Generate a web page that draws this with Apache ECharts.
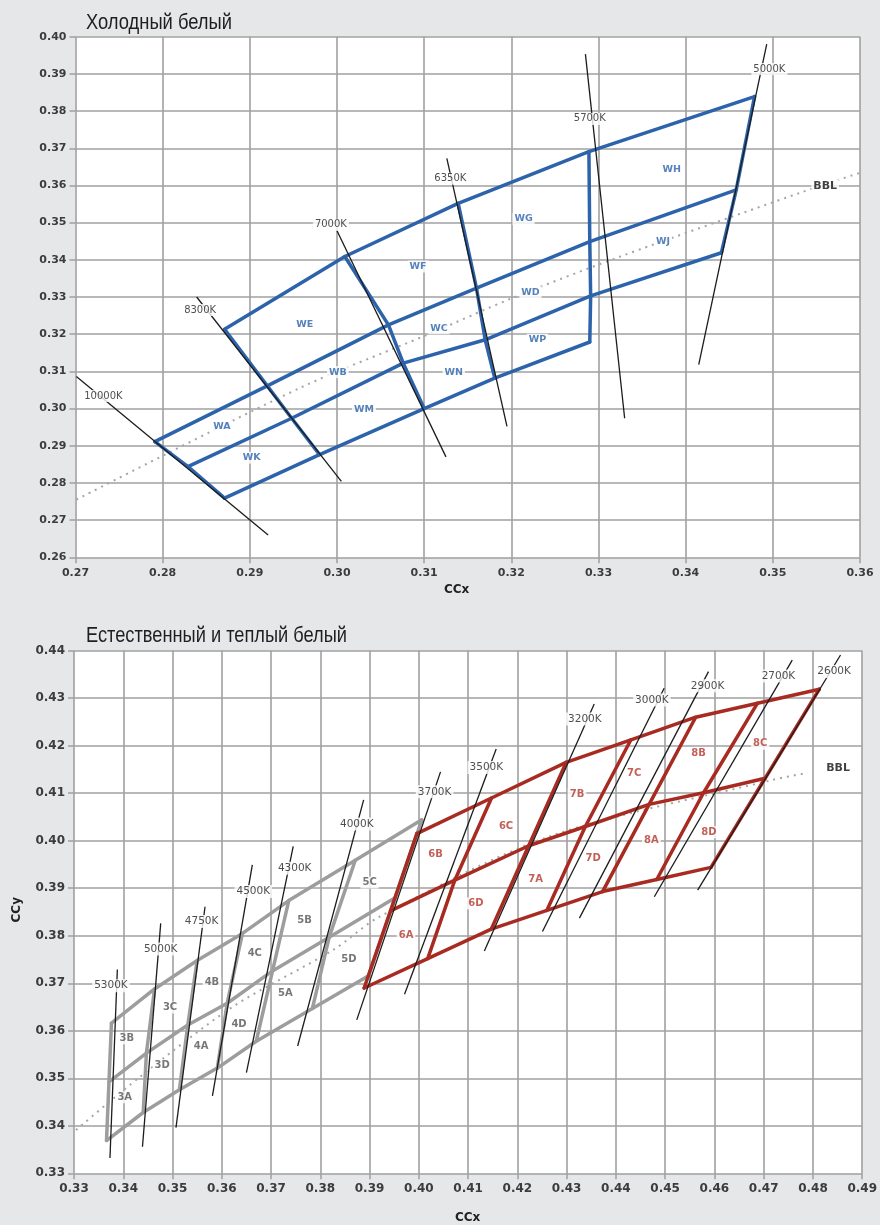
<!DOCTYPE html>
<html>
<head>
<meta charset="utf-8">
<script src="https://cdn.jsdelivr.net/npm/echarts@6/dist/echarts.min.js"></script>
<style>
  html, body { margin: 0; padding: 0; background: #e5e7e9; }
  #chart { width: 880px; height: 1225px; }
</style>
</head>
<body>
<div id="chart"></div>
<script>
// ---------- axis ticks ----------
const coolXTicks = [0.27, 0.28, 0.29, 0.30, 0.31, 0.32, 0.33, 0.34, 0.35, 0.36];
const coolYTicks = [0.26, 0.27, 0.28, 0.29, 0.30, 0.31, 0.32, 0.33, 0.34, 0.35, 0.36, 0.37, 0.38, 0.39, 0.40];
const warmXTicks = [0.33, 0.34, 0.35, 0.36, 0.37, 0.38, 0.39, 0.40, 0.41, 0.42, 0.43, 0.44, 0.45, 0.46, 0.47, 0.48, 0.49];
const warmYTicks = [0.33, 0.34, 0.35, 0.36, 0.37, 0.38, 0.39, 0.40, 0.41, 0.42, 0.43, 0.44];

// ---------- cool white bins ----------
// Bin edges along isotherms; each lists its crossing with rows 1..4 (top to bottom), null where a row does not reach.
const coolEdgeNames = ['10000K', '8300K', '7000K', '6350K', '5700K', '5000K'];
const coolEdgePoints = [
  [null, [0.2791, 0.2911], [0.2829, 0.2844], [0.2871, 0.2759]],
  [[0.2871, 0.3213], [0.2920, 0.3061], [0.2948, 0.2974], [0.2980, 0.2876]],
  [[0.3009, 0.3409], [0.3059, 0.3225], [0.3076, 0.3122], [0.3100, 0.3000]],
  [[0.3139, 0.3552], [0.3160, 0.3324], [0.3170, 0.3185], [0.3181, 0.3082]],
  [[0.3289, 0.3691], [0.3290, 0.3449], [0.3291, 0.3303], [0.3290, 0.3179]],
  [[0.3479, 0.3839], [0.3458, 0.3588], [0.3441, 0.3419], null]
];
const coolBinNames = ['WA', 'WK', 'WE', 'WB', 'WM', 'WF', 'WC', 'WN', 'WG', 'WD', 'WP', 'WH', 'WJ'];
const coolBinPos = [
  [0.2868, 0.2952], [0.2902, 0.2868], [0.2963, 0.3227], [0.3001, 0.3098], [0.3031, 0.2998],
  [0.3093, 0.3382], [0.3117, 0.3216], [0.3134, 0.3097], [0.3214, 0.3510], [0.3222, 0.3313],
  [0.3230, 0.3185], [0.3384, 0.3644], [0.3374, 0.3449]
];
// Isotherm lines [x1, y1, x2, y2] and their label anchors
const coolIsotherms = [
  [0.2701, 0.3086, 0.2921, 0.2660],
  [0.2839, 0.3300, 0.3005, 0.2804],
  [0.3000, 0.3478, 0.3125, 0.2870],
  [0.3126, 0.3673, 0.3195, 0.2952],
  [0.3285, 0.3953, 0.3330, 0.2974],
  [0.3493, 0.3980, 0.3415, 0.3118]
];
const coolIsoLabelPos = [
  [0.2732, 0.3034], [0.2843, 0.3265], [0.2993, 0.3494], [0.3130, 0.3618], [0.3290, 0.3779], [0.3496, 0.3913]
];
const coolBBL = [
  [0.2701, 0.2755], [0.2958, 0.3056], [0.3103, 0.3198], [0.3202, 0.3298],
  [0.3324, 0.3408], [0.3531, 0.3580], [0.3600, 0.3634]
];
const coolBBLLabel = [0.3560, 0.3599];

// ---------- neutral & warm white bins ----------
// Edges listed top, middle, bottom row.
const neutralEdgePoints = [
  [[0.3376, 0.3616], [0.3371, 0.34925], [0.3366, 0.3369]],
  [[0.34635, 0.3688], [0.3447, 0.3553], [0.34405, 0.3428]],
  [[0.3550, 0.3748], [0.3531, 0.3612], [0.3514, 0.3476]],
  [[0.3642, 0.3805], [0.3611, 0.3658], [0.3591, 0.35215]],
  [[0.3736, 0.3874], [0.3703, 0.3726], [0.3670, 0.3578]],
  [[0.3871, 0.3959], [0.3818, 0.3797], [0.3784, 0.3647]],
  [[0.4006, 0.4044], [0.3952, 0.3880], [0.3898, 0.3716]]
];
const warmEdgePoints = [
  [[0.3996, 0.4015], [0.39425, 0.38525], [0.3889, 0.3690]],
  [[0.41475, 0.4090], [0.4073, 0.3917], [0.4018, 0.3752]],
  [[0.4299, 0.4165], [0.4223, 0.39895], [0.4147, 0.3814]],
  [[0.44305, 0.42125], [0.4338, 0.4030], [0.4260, 0.38535]],
  [[0.4562, 0.4260], [0.44675, 0.40765], [0.4373, 0.3893]],
  [[0.46875, 0.42895], [0.4578, 0.4101], [0.4483, 0.39185]],
  [[0.4813, 0.4319], [0.4703, 0.41315], [0.4593, 0.3944]]
];
const neutralBinNames = ['3B', '3C', '3A', '3D', '4B', '4C', '4A', '4D', '5B', '5C', '5A', '5D'];
const neutralBinPos = [
  [0.3407, 0.3584], [0.3495, 0.3649], [0.3403, 0.3460], [0.3479, 0.3527],
  [0.3580, 0.3701], [0.3667, 0.3763], [0.3558, 0.3567], [0.3635, 0.3614],
  [0.3768, 0.3832], [0.3900, 0.3912], [0.3729, 0.3679], [0.3858, 0.3750]
];
const warmBinNames = ['6B', '6C', '6A', '6D', '7B', '7C', '7A', '7D', '8B', '8C', '8A', '8D'];
const warmBinPos = [
  [0.4034, 0.3972], [0.4177, 0.4031], [0.3974, 0.3800], [0.4116, 0.3868],
  [0.4321, 0.4098], [0.4437, 0.4142], [0.4237, 0.3919], [0.4354, 0.3963],
  [0.4568, 0.4183], [0.4693, 0.4204], [0.4472, 0.4000], [0.4589, 0.4018]
];
const warmIsoNames = ['5300K', '5000K', '4750K', '4500K', '4300K', '4000K', '3700K', '3500K', '3200K', '3000K', '2900K', '2700K', '2600K'];
const warmIsotherms = [
  [0.3388, 0.3729, 0.3373, 0.3332],
  [0.3476, 0.3826, 0.3439, 0.3356],
  [0.3566, 0.3861, 0.3507, 0.3396],
  [0.3662, 0.3949, 0.3581, 0.3463],
  [0.3745, 0.3988, 0.3650, 0.3512],
  [0.3888, 0.4086, 0.3754, 0.3568],
  [0.4044, 0.4145, 0.3874, 0.3623],
  [0.4157, 0.4193, 0.3971, 0.3677],
  [0.4356, 0.4288, 0.4133, 0.3768],
  [0.4498, 0.4321, 0.4251, 0.3809],
  [0.4588, 0.4356, 0.4326, 0.3837],
  [0.4758, 0.4380, 0.4478, 0.3882],
  [0.4856, 0.4391, 0.4566, 0.3896]
];
const warmIsoLabelPos = [
  [0.3375, 0.3695], [0.3476, 0.3772], [0.3559, 0.3830], [0.3664, 0.3893], [0.3748, 0.3942],
  [0.3874, 0.4035], [0.4032, 0.4103], [0.4137, 0.4154], [0.4337, 0.4256], [0.4473, 0.4296],
  [0.4586, 0.4326], [0.4730, 0.4347], [0.4843, 0.4356]
];
const warmBBL = [
  [0.3304, 0.3391], [0.3434, 0.3503], [0.3623, 0.3651], [0.3826, 0.3770],
  [0.3920, 0.3840], [0.4265, 0.4009], [0.4718, 0.4128], [0.4785, 0.4142]
];
const warmBBLLabel = [0.4851, 0.4153];

// ---------- styling ----------
const BLUE = '#2c63aa';
const RED = '#a82b22';
const GREY = '#9d9d9d';
const INK = '#1c1c1c';
const GRIDLINE = '#a0a0a0';
const TICK_FONT = 'DejaVu Sans';
const TITLE_FONT = '22px "Liberation Sans", Arial, sans-serif';

function binGrid(edges, color, width, ax) {
  const out = [];
  const rows = edges[0].length;
  const mk = (pts) => ({
    type: 'line', xAxisIndex: ax, yAxisIndex: ax, data: pts,
    symbol: 'none', silent: true, animation: false, z: 2,
    lineStyle: { color: color, width: width, cap: 'round', join: 'round' }
  });
  edges.forEach(e => out.push(mk(e.filter(Boolean))));
  for (let r = 0; r < rows; r++) {
    out.push(mk(edges.map(e => e[r]).filter(Boolean)));
  }
  return out;
}

function isoLines(list, ax) {
  return list.map(s => ({
    type: 'line', xAxisIndex: ax, yAxisIndex: ax,
    data: [[s[0], s[1]], [s[2], s[3]]],
    symbol: 'none', silent: true, animation: false, z: 3,
    lineStyle: { color: INK, width: 1.3 }
  }));
}

function labels(names, pos, ax, color, size, bold, z) {
  return {
    type: 'scatter', xAxisIndex: ax, yAxisIndex: ax,
    symbolSize: 1, silent: true, animation: false, z: z,
    itemStyle: { color: 'rgba(0,0,0,0)' },
    data: names.map((n, i) => ({ name: n, value: pos[i] })),
    label: {
      show: true, position: 'inside', formatter: '{b}',
      color: color, fontSize: size, fontFamily: 'DejaVu Sans',
      fontWeight: bold ? 'bold' : 'normal',
      backgroundColor: '#ffffff', padding: [1, 2]
    }
  };
}

function bbl(pts, ax) {
  return {
    type: 'line', xAxisIndex: ax, yAxisIndex: ax, data: pts,
    symbol: 'none', silent: true, animation: false, z: 1, smooth: 0.3,
    lineStyle: { color: '#a5a5a5', width: 2, type: [2, 5] }
  };
}

function valueAxis(ticks, gridIndex, fontSize, isX) {
  return {
    type: 'value', gridIndex: gridIndex,
    min: ticks[0], max: ticks[ticks.length - 1],
    interval: Math.round((ticks[1] - ticks[0]) * 1000) / 1000,
    axisLine: { show: false },
    axisTick: { show: true, length: 6, lineStyle: { color: GRIDLINE, width: 1.5 } },
    splitLine: { show: true, showMinLine: true, showMaxLine: true, lineStyle: { color: GRIDLINE, width: 1.6 } },
    axisLabel: {
      color: '#3c3c3c', fontFamily: TICK_FONT, fontWeight: 'bold', fontSize: fontSize,
      margin: isX ? 10 : 9,
      formatter: v => v.toFixed(2)
    }
  };
}

// Narrow headline: horizontally condense the title face to the panel's headline width.
function condensed(text, targetWidth) {
  const ctx = document.createElement('canvas').getContext('2d');
  ctx.font = TITLE_FONT;
  return targetWidth / ctx.measureText(text).width;
}
const TITLE_COOL = 'Холодный белый';
const TITLE_WARM = 'Естественный и теплый белый';

const series = [].concat(
  [bbl(coolBBL, 0)],
  binGrid(coolEdgePoints, BLUE, 3.5, 0),
  isoLines(coolIsotherms, 0),
  [labels(coolBinNames, coolBinPos, 0, BLUE, 9.5, true, 5)],
  [labels(coolEdgeNames, coolIsoLabelPos, 0, '#222', 10, false, 6)],
  [labels(['BBL'], [coolBBLLabel], 0, '#111', 11, true, 6)],

  [bbl(warmBBL, 1)],
  binGrid(neutralEdgePoints, GREY, 3.5, 1),
  binGrid(warmEdgePoints, RED, 3.5, 1),
  isoLines(warmIsotherms, 1),
  [labels(neutralBinNames, neutralBinPos, 1, '#555', 10, true, 5)],
  [labels(warmBinNames, warmBinPos, 1, '#b3392d', 10, true, 5)],
  [labels(warmIsoNames, warmIsoLabelPos, 1, '#222', 10.5, false, 6)],
  [labels(['BBL'], [warmBBLLabel], 1, '#111', 11, true, 6)]
);

const chart = echarts.init(document.getElementById('chart'), null, { renderer: 'canvas' });
chart.setOption({
  backgroundColor: '#e5e7e9',
  animation: false,
  grid: [
    { left: 75.5, top: 36.7, width: 784.5, height: 520.6, show: true, backgroundColor: '#ffffff', borderWidth: 0 },
    { left: 74, top: 650.7, width: 789.3, height: 522.6, show: true, backgroundColor: '#ffffff', borderWidth: 0 }
  ],
  xAxis: [valueAxis(coolXTicks, 0, 11, true), valueAxis(warmXTicks, 1, 12, true)],
  yAxis: [valueAxis(coolYTicks, 0, 11, false), valueAxis(warmYTicks, 1, 12, false)],
  graphic: [
    { type: 'text', x: 86, y: 34, scaleX: condensed(TITLE_COOL, 146), style: { x: 0, y: 0, text: TITLE_COOL, font: TITLE_FONT, fill: '#1e1e1e', textVerticalAlign: 'bottom' } },
    { type: 'text', x: 86, y: 647, scaleX: condensed(TITLE_WARM, 261), style: { x: 0, y: 0, text: TITLE_WARM, font: TITLE_FONT, fill: '#1e1e1e', textVerticalAlign: 'bottom' } },
    { type: 'text', left: 444, top: 584, style: { text: 'CCx', font: 'bold 12px "DejaVu Sans"', fill: '#222' } },
    { type: 'text', left: 455, top: 1212, style: { text: 'CCx', font: 'bold 12px "DejaVu Sans"', fill: '#222' } },
    { type: 'text', left: 11, top: 897, rotation: Math.PI / 2, style: { text: 'CCy', font: 'bold 12px "DejaVu Sans"', fill: '#222' } }
  ],
  series: series
});
</script>
</body>
</html>
